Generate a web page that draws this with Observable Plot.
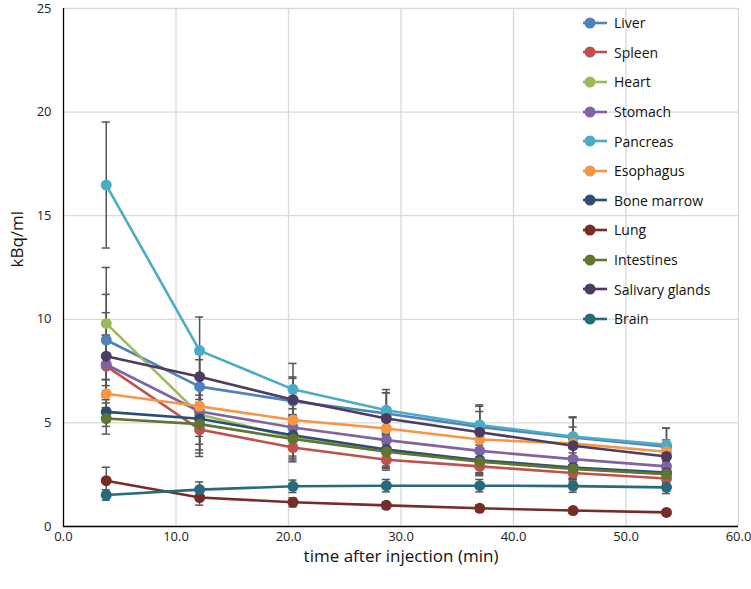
<!DOCTYPE html>
<html>
<head>
<meta charset="utf-8">
<script src="https://cdn.jsdelivr.net/npm/d3@7"></script>
<script src="https://cdn.jsdelivr.net/npm/@observablehq/plot@0.6"></script>
<style>
  html, body { margin: 0; padding: 0; background: #fff; }
  #wrap { position: relative; width: 751px; height: 589px; font-family: "Open Sans", Lato, sans-serif; }
  #legend { position: absolute; left: 582px; top: 8px; }
  .row { display: flex; align-items: center; height: 29.6px; font-size: 14px; color: #111; }
  .row svg { margin-right: 6px; }
</style>
</head>
<body>
<div id="wrap"></div>
<script>
const times = [3.8, 12.1, 20.4, 28.7, 37.0, 45.3, 53.6];
const seriesNames = ["Liver", "Spleen", "Heart", "Stomach", "Pancreas", "Esophagus", "Bone marrow", "Lung", "Intestines", "Salivary glands", "Brain"];
const seriesColors = ["#4F81BD", "#C0504D", "#9BBB59", "#8064A2", "#4BACC6", "#F79646", "#2C4D75", "#772C2A", "#5F7530", "#4D3B62", "#276A7C"];

const liver      = [9.0, 6.75, 6.05, 5.45, 4.8, 4.3, 3.85];
const spleen     = [7.74, 4.68, 3.81, 3.22, 2.9, 2.58, 2.32];
const heart      = [9.8, 5.4, 4.3, 3.65, 3.15, 2.8, 2.55];
const stomach    = [7.82, 5.55, 4.78, 4.17, 3.65, 3.25, 2.9];
const pancreas   = [16.48, 8.49, 6.62, 5.61, 4.9, 4.34, 3.94];
const esophagus  = [6.41, 5.8, 5.14, 4.73, 4.2, 4.0, 3.61];
const boneMarrow = [5.53, 5.2, 4.4, 3.72, 3.2, 2.85, 2.6];
const lung       = [2.21, 1.4, 1.17, 1.02, 0.88, 0.77, 0.68];
const intestines = [5.21, 4.94, 4.22, 3.61, 3.13, 2.78, 2.53];
const salivary   = [8.22, 7.23, 6.12, 5.21, 4.55, 3.9, 3.38];
const brain      = [1.52, 1.78, 1.94, 1.97, 1.97, 1.95, 1.89];

const liverErr      = [2.2, 1.3, 1.1, 1.0, 1.0, 0.95, 0.9];
const spleenErr     = [1.5, 1.3, 0.6, 0.5, 0.45, 0.4, 0.35];
const heartErr      = [2.7, 1.43, 1.0, 0.8, 0.6, 0.5, 0.45];
const stomachErr    = [1.4, 1.2, 0.9, 0.7, 0.6, 0.5, 0.4];
const pancreasErr   = [3.04, 1.62, 1.25, 1.0, 0.97, 0.95, 0.8];
const esophagusErr  = [0.67, 0.9, 0.8, 0.6, 0.5, 0.45, 0.4];
const boneMarrowErr = [0.7, 1.5, 1.0, 0.8, 0.6, 0.5, 0.45];
const lungErr       = [0.65, 0.37, 0.22, 0.17, 0.15, 0.15, 0.13];
const intestinesErr = [0.75, 1.4, 1.1, 0.8, 0.6, 0.5, 0.45];
const salivaryErr   = [2.1, 1.1, 1.1, 1.25, 1.0, 0.9, 0.8];
const brainErr      = [0.25, 0.37, 0.3, 0.3, 0.3, 0.3, 0.3];

const xTicks = [0, 10, 20, 30, 40, 50, 60];
const yTicks = [0, 5, 10, 15, 20, 25];

const values = [liver, spleen, heart, stomach, pancreas, esophagus, boneMarrow, lung, intestines, salivary, brain];
const errors = [liverErr, spleenErr, heartErr, stomachErr, pancreasErr, esophagusErr, boneMarrowErr, lungErr, intestinesErr, salivaryErr, brainErr];

const data = [];
seriesNames.forEach((name, i) => {
  times.forEach((t, j) => {
    data.push({series: name, t, v: values[i][j], lo: values[i][j] - errors[i][j], hi: values[i][j] + errors[i][j]});
  });
});

const capHalf = 0.36;
const errColor = "#555";

const chart = Plot.plot({
  width: 751,
  height: 589,
  marginLeft: 63,
  marginRight: 13,
  marginTop: 8,
  marginBottom: 63,
  style: {fontFamily: "'Open Sans', Lato, sans-serif", fontSize: "13px", color: "#222", background: "#fff"},
  x: {domain: [0, 60], ticks: xTicks, tickFormat: d3.format(".1f"), tickSize: 0, tickPadding: 5, label: null},
  y: {domain: [0, 25], ticks: yTicks, tickSize: 0, tickPadding: 12, label: null},
  color: {domain: seriesNames, range: seriesColors},
  marks: [
    Plot.gridX(xTicks.slice(1), {stroke: "#d9d9d9", strokeOpacity: 1, strokeWidth: 1.3}),
    Plot.gridY(yTicks.slice(1), {stroke: "#d9d9d9", strokeOpacity: 1, strokeWidth: 1.3}),
    Plot.ruleX(data, {x: "t", y1: "lo", y2: "hi", stroke: errColor, strokeWidth: 1.5}),
    Plot.ruleY(data, {y: "hi", x1: d => d.t - capHalf, x2: d => d.t + capHalf, stroke: errColor, strokeWidth: 1.5}),
    Plot.ruleY(data, {y: "lo", x1: d => d.t - capHalf, x2: d => d.t + capHalf, stroke: errColor, strokeWidth: 1.5}),
    Plot.line(data, {x: "t", y: "v", z: "series", stroke: "series", strokeWidth: 2.6}),
    Plot.dot(data, {x: "t", y: "v", fill: "series", r: 5.5}),
    Plot.ruleX([0], {stroke: "#000", strokeWidth: 1.3}),
    Plot.ruleY([0], {stroke: "#000", strokeWidth: 1.3}),
    Plot.text(["time after injection (min)"], {frameAnchor: "bottom", dy: 35, fontSize: 17, fill: "#111"}),
    Plot.text(["kBq/ml"], {frameAnchor: "left", dx: -46, rotate: -90, fontSize: 17, fill: "#111"})
  ]
});

const wrap = document.getElementById("wrap");
wrap.appendChild(chart);

const legend = document.createElement("div");
legend.id = "legend";
seriesNames.forEach((name, i) => {
  const row = document.createElement("div");
  row.className = "row";
  row.innerHTML = `<svg width="26" height="14"><line x1="1" y1="7" x2="25" y2="7" stroke="${seriesColors[i]}" stroke-width="2.6"/><circle cx="8" cy="7" r="5.5" fill="${seriesColors[i]}"/></svg><span>${name}</span>`;
  legend.appendChild(row);
});
wrap.appendChild(legend);
</script>
</body>
</html>
